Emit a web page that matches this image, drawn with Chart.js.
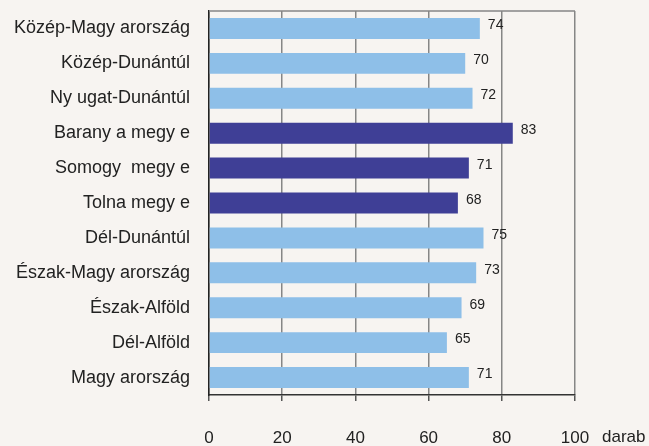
<!DOCTYPE html>
<html>
<head>
<meta charset="utf-8">
<script src="https://cdn.jsdelivr.net/npm/chart.js@4"></script>
<style>
  html, body { margin: 0; padding: 0; background: #f7f4f1; }
  #wrap { width: 649px; height: 446px; }
</style>
</head>
<body>
<div id="wrap"><canvas id="chart" width="649" height="446"></canvas></div>
<script>
// Régiók és értékek (darab)
const regions = [
    'Közép-Magy arország', 'Közép-Dunántúl', 'Ny ugat-Dunántúl', 'Barany a megy e',
    'Somogy  megy e', 'Tolna megy e', 'Dél-Dunántúl', 'Észak-Magy arország',
    'Észak-Alföld', 'Dél-Alföld', 'Magy arország'
];
const values = [74, 70, 72, 83, 71, 68, 75, 73, 69, 65, 71];
const highlighted = [false, false, false, true, true, true, false, false, false, false, false];
const xTicks = [0, 20, 40, 60, 80, 100];
const unitLabel = 'darab';

const lightBlue = '#8ebfe8';
const darkBlue = '#3f3f96';

// Keret felső vonala + értékcímkék + mértékegység
const extras = {
    id: 'extras',
    afterDatasetsDraw(chart) {
        const ctx = chart.ctx;
        const area = chart.chartArea;
        ctx.save();
        ctx.strokeStyle = '#868686';
        ctx.lineWidth = 1.5;
        ctx.beginPath();
        ctx.moveTo(area.left, area.top);
        ctx.lineTo(area.right, area.top);
        ctx.stroke();

        ctx.fillStyle = '#222';
        ctx.font = '14px "Liberation Sans", Arial, sans-serif';
        ctx.textBaseline = 'middle';
        ctx.textAlign = 'left';
        chart.getDatasetMeta(0).data.forEach((bar, i) => {
            ctx.fillText(String(values[i]), bar.x + 8, bar.y - 3);
        });

        const xs = chart.scales.x;
        ctx.font = '17px "Liberation Sans", Arial, sans-serif';
        ctx.textBaseline = 'middle';
        ctx.fillText(unitLabel, xs.getPixelForValue(100) + 27, 437);
        ctx.restore();
    }
};

new Chart(document.getElementById('chart'), {
    type: 'bar',
    data: {
        labels: regions,
        datasets: [{
            data: values,
            backgroundColor: highlighted.map(h => h ? darkBlue : lightBlue),
            borderWidth: 0,
            categoryPercentage: 1,
            barPercentage: 0.6
        }]
    },
    options: {
        indexAxis: 'y',
        responsive: false,
        animation: false,
        layout: { padding: { top: 11, right: 74, left: 0, bottom: 0 } },
        plugins: { legend: { display: false }, tooltip: { enabled: false } },
        scales: {
            x: {
                min: 0,
                max: 100,
                afterBuildTicks: s => { s.ticks = xTicks.map(v => ({ value: v })); },
                afterFit: s => {
                    s.height = 51;
                    s.paddingLeft = 0;
                    s.paddingRight = 0;
                },
                grid: { color: '#868686', lineWidth: 1.5, tickLength: 6, tickColor: '#555' },
                border: { display: true, color: '#333', width: 1.5 },
                ticks: {
                    padding: 27,
                    color: '#222',
                    font: { family: '"Liberation Sans", Arial, sans-serif', size: 17 }
                }
            },
            y: {
                afterFit: s => {
                    s.width = 209;
                    s.paddingTop = 0;
                    s.paddingBottom = 0;
                },
                grid: { display: false, drawTicks: false },
                border: { display: true, color: '#222', width: 1.5 },
                ticks: {
                    padding: 19,
                    color: '#222',
                    font: { family: '"Liberation Sans", Arial, sans-serif', size: 18 }
                }
            }
        }
    },
    plugins: [extras]
});
</script>
</body>
</html>
